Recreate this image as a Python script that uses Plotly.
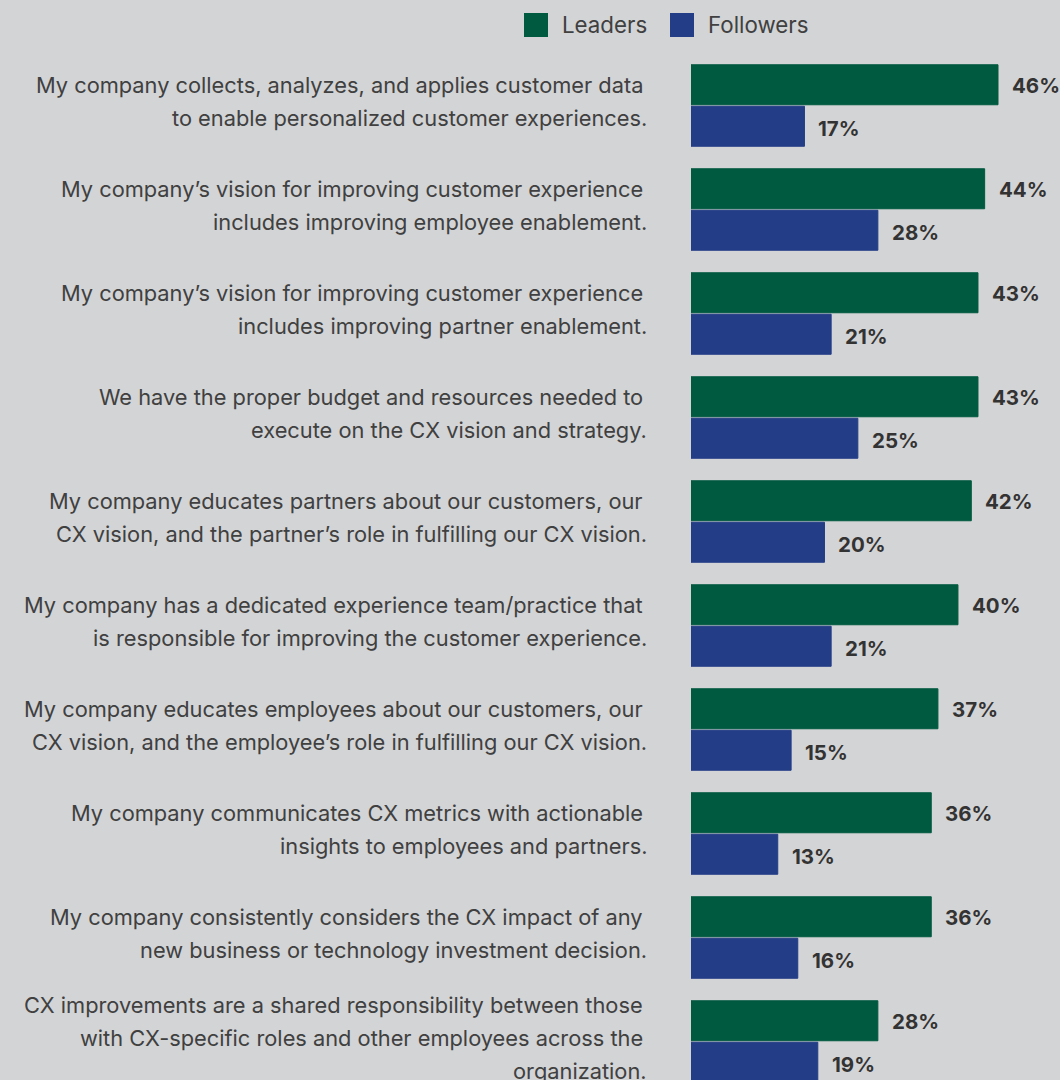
import plotly.graph_objects as go

series_names = ["Leaders", "Followers"]
series_colors = ["#005a3f", "#233d86"]

label_lines = [
    ["My company collects, analyzes, and applies customer data", "to enable personalized customer experiences."],
    ["My company’s vision for improving customer experience", "includes improving employee enablement."],
    ["My company’s vision for improving customer experience", "includes improving partner enablement."],
    ["We have the proper budget and resources needed to", "execute on the CX vision and strategy."],
    ["My company educates partners about our customers, our", "CX vision, and the partner’s role in fulfilling our CX vision."],
    ["My company has a dedicated experience team/practice that", "is responsible for improving the customer experience."],
    ["My company educates employees about our customers, our", "CX vision, and the employee’s role in fulfilling our CX vision."],
    ["My company communicates CX metrics with actionable", "insights to employees and partners."],
    ["My company consistently considers the CX impact of any", "new business or technology investment decision."],
    ["CX improvements are a shared responsibility between those", "with CX-specific roles and other employees across the", "organization."],
]
categories = [" ".join(l) for l in label_lines]

leaders = [46, 44, 43, 43, 42, 40, 37, 36, 36, 28]
followers = [17, 28, 21, 25, 20, 21, 15, 13, 16, 19]
values = [leaders, followers]

W, H = 1060, 1080
BG = "#d3d4d6"
FONT = "Inter"
TXT = "#404040"

x0_px = 691
px_per = 307 / 46
x_max = (W - x0_px) / px_per

pitch = 104
c0 = 105.5
y_top = -c0 / pitch
y_bot = (H - c0) / pitch

fig = go.Figure()
for name, col, vals in zip(series_names, series_colors, values):
    fig.add_trace(go.Bar(
        y=categories, x=vals, name=name, orientation="h",
        marker=dict(color=col, line=dict(width=1, color=col)),
        showlegend=False, hoverinfo="x+name",
    ))

annotations = []
# value labels
for k, vals in enumerate(values):
    shift = -21.5 if k == 0 else 21.5
    for cat, v in zip(categories, vals):
        annotations.append(dict(
            x=v, y=cat, xref="x", yref="y", text=f"<b>{v}%</b>",
            showarrow=False, xanchor="left", yanchor="middle",
            xshift=12, yshift=-shift - 1,
            font=dict(family=FONT, size=20.5, color="#333333"),
        ))
# category labels
line_h = 33
for cat, lines in zip(categories, label_lines):
    n = len(lines)
    for i, ln in enumerate(lines):
        off = (i - (n - 1) / 2) * line_h - 4
        annotations.append(dict(
            x=(649 if i == n - 1 else 645) / W, y=cat, xref="paper", yref="y",
            text=ln, showarrow=False, xanchor="right", yanchor="middle",
            yshift=-off, font=dict(family=FONT, size=21.8, color=TXT),
        ))

# legend
shapes = []
leg_x = [524, 670]
for name, col, lx in zip(series_names, series_colors, leg_x):
    shapes.append(dict(type="rect", xref="paper", yref="paper",
                       x0=lx / W, x1=(lx + 24) / W, y0=1 - 37 / H, y1=1 - 13 / H,
                       fillcolor=col, line=dict(width=0)))
    annotations.append(dict(x=(lx + 36) / W, y=1 - 24 / H, xref="paper", yref="paper",
                            text=name, showarrow=False, xanchor="left", yanchor="middle",
                            font=dict(family=FONT, size=22.3, color=TXT)))

fig.update_layout(
    width=W, height=H,
    margin=dict(l=0, r=0, t=0, b=0),
    paper_bgcolor=BG, plot_bgcolor=BG,
    barmode="group", bargap=21 / 104, bargroupgap=0.036,
    xaxis=dict(domain=[x0_px / W, 1], range=[0, x_max], visible=False),
    yaxis=dict(type="category", range=[y_bot, y_top], visible=False),
    annotations=annotations, shapes=shapes,
    showlegend=False,
)

fig.write_html("out.html")
